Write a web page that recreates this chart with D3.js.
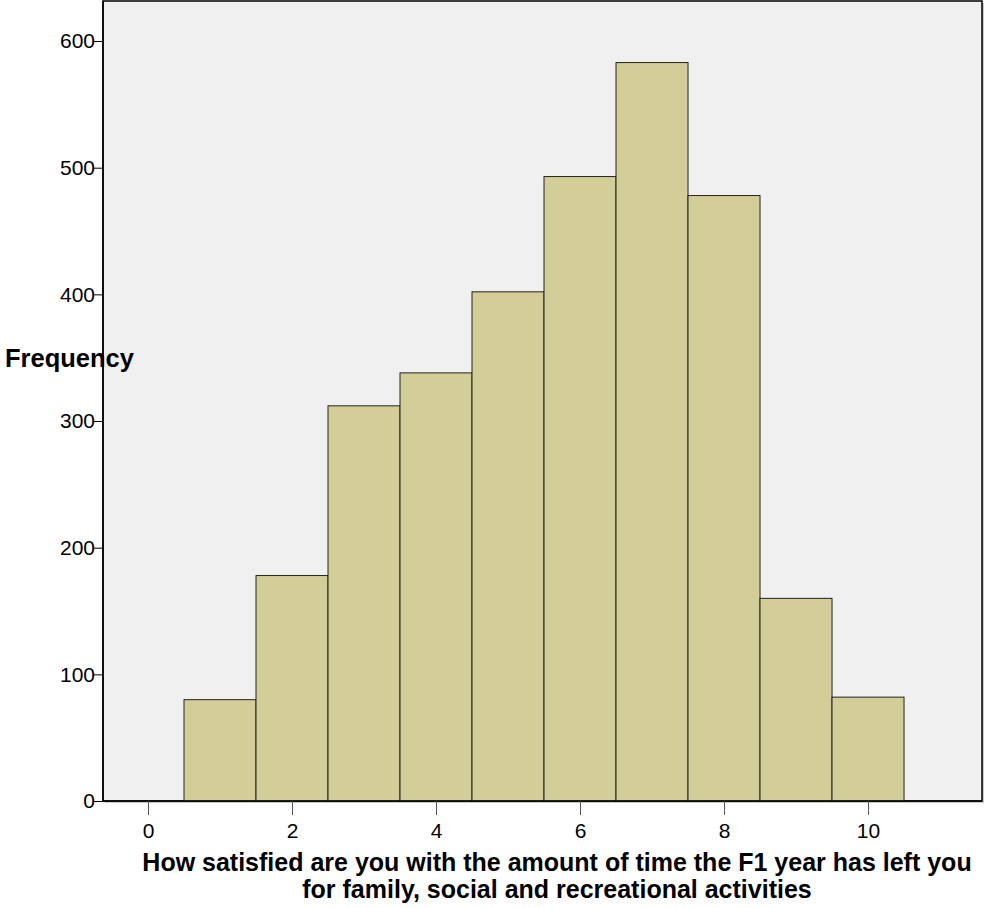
<!DOCTYPE html>
<html><head><meta charset="utf-8">
<script src="https://cdn.jsdelivr.net/npm/d3@7"></script>
<style>body{margin:0;background:#fff;} text{font-family:"Liberation Sans",Arial,sans-serif;}</style>
</head><body>
<svg id="c" width="1001" height="908"></svg>
<script>
const binCenters = [1,2,3,4,5,6,7,8,9,10];
const frequencies = [80,178,312,338,402,493,583,478,160,82];
const xTicks = [0,2,4,6,8,10];
const yTicks = [0,100,200,300,400,500,600];
const yLabel = "Frequency";
const xLabelLines = ["How satisfied are you with the amount of time the F1 year has left you","for family, social and recreational activities"];

const svg = d3.select("#c");
const L = 103, R = 982, T = 1, B = 801;
const x = d3.scaleLinear().domain([-0.625, 11.583]).range([L, R]);
const y = d3.scaleLinear().domain([0, 631.6]).range([B, T]);

svg.append("rect").attr("x", L+2).attr("y", T+2).attr("width", R-L).attr("height", B-T).attr("fill", "#c8c8c8");
svg.append("rect").attr("x", L).attr("y", T).attr("width", R-L).attr("height", B-T)
  .attr("fill", "#f0f0f0").attr("stroke", "#000").attr("stroke-width", 1.5);

svg.append("g").selectAll("rect").data(binCenters).join("rect")
  .attr("x", (d) => x(d-0.5)).attr("width", (d) => x(d+0.5)-x(d-0.5))
  .attr("y", (d,i) => y(frequencies[i])).attr("height", (d,i) => B - y(frequencies[i]))
  .attr("fill", "#d3ce98").attr("stroke", "#222").attr("stroke-width", 1);

svg.append("line").attr("x1", L).attr("x2", L).attr("y1", T).attr("y2", B).attr("stroke","#000").attr("stroke-width",1.5);
svg.append("line").attr("x1", L).attr("x2", R).attr("y1", B).attr("y2", B).attr("stroke","#000").attr("stroke-width",1.5);

const yAxis = svg.append("g").attr("transform", `translate(${L},0)`)
  .call(d3.axisLeft(y).tickValues(yTicks).tickSize(10).tickPadding(-2).tickFormat(d3.format("d")));
yAxis.select(".domain").remove();
yAxis.selectAll("line").attr("stroke", "#000");
yAxis.selectAll("text").attr("font-size", 21).attr("fill", "#000").attr("font-family", "Liberation Sans, Arial");

const xAxis = svg.append("g").attr("transform", `translate(0,${B})`)
  .call(d3.axisBottom(x).tickValues(xTicks).tickSize(14).tickPadding(8).tickFormat(d3.format("d")));
xAxis.select(".domain").remove();
xAxis.selectAll("line").attr("stroke", "#555");
xAxis.selectAll("text").attr("font-size", 21).attr("fill", "#000").attr("font-family", "Liberation Sans, Arial");

svg.append("text").attr("x", 5).attr("y", 367).attr("font-size", 25.5).attr("font-weight", "bold").text(yLabel);

svg.append("g").selectAll("text").data(xLabelLines).join("text")
  .attr("x", 557).attr("y", (d,i) => 871 + i*27).attr("text-anchor", "middle")
  .attr("font-size", 25).attr("font-weight", "bold").text(d => d);
</script>
</body></html>
